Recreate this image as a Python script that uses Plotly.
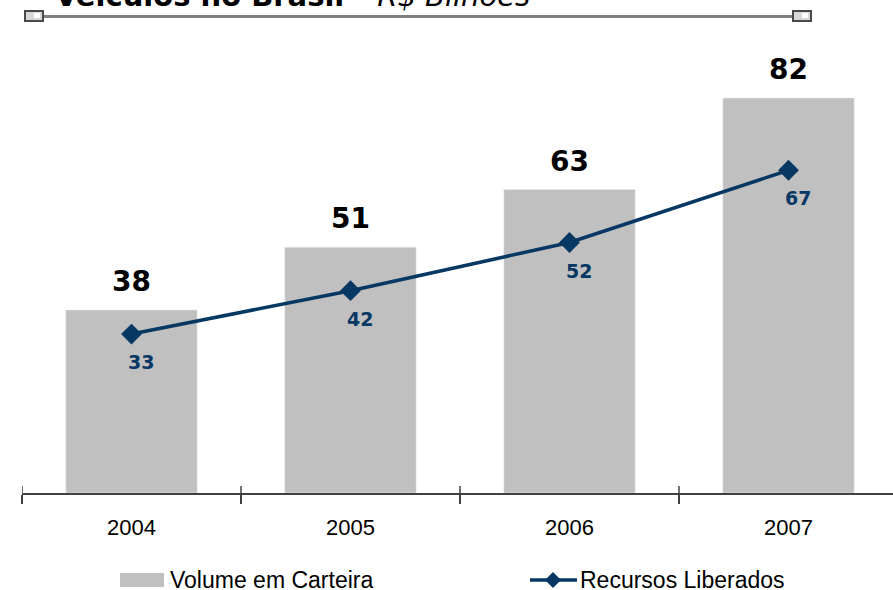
import plotly.graph_objects as go

years = ["2004", "2005", "2006", "2007"]
volume_carteira = [38, 51, 63, 82]
recursos_liberados = [33, 42, 52, 67]
title_bold = "Veículos no Brasil"
title_italic = "R$ Bilhões"
legend_names = ["Volume em Carteira", "Recursos Liberados"]

W, H = 893, 590
ML, MR, MT, MB = 22, 0, 40, 97
PW, PH = W - ML - MR, H - MT - MB

def px(xp):
    return (xp - ML) / PW

def py(yp):
    return (H - MB - yp) / PH

NAVY = "#073763"
GRAY_BAR = "#c0c0c0"

fig = go.Figure()
fig.add_trace(go.Bar(x=years, y=volume_carteira, marker_color=GRAY_BAR,
                     width=0.6, name=legend_names[0], showlegend=False,
                     hoverinfo="skip"))
fig.add_trace(go.Scatter(x=years, y=recursos_liberados, mode="lines+markers",
                         line=dict(color=NAVY, width=3.5),
                         marker=dict(symbol="diamond", size=16, color=NAVY),
                         name=legend_names[1], showlegend=False,
                         hoverinfo="skip"))

ann = []
for i, v in enumerate(volume_carteira):
    ann.append(dict(x=i, y=v, xref="x", yref="y", text=f"<b>{v}</b>",
                    showarrow=False, yanchor="bottom", yshift=10,
                    font=dict(family="DejaVu Sans", size=28, color="black")))
for i, v in enumerate(recursos_liberados):
    ann.append(dict(x=i, y=v, xref="x", yref="y", text=f"<b>{v}</b>",
                    showarrow=False, yanchor="top", yshift=-15, xshift=9,
                    font=dict(family="DejaVu Sans", size=19, color=NAVY)))

# title (partly cut by the top edge as in the reference)
ann.append(dict(x=px(53), y=py(15), xref="paper", yref="paper",
                xanchor="left", yanchor="bottom", showarrow=False,
                text=f"<b>{title_bold}</b> – <i>{title_italic}</i>",
                font=dict(family="DejaVu Sans", size=29, color="black")))

# manual legend
ann.append(dict(x=px(168), y=py(580), xref="paper", yref="paper",
                xanchor="left", yanchor="middle", showarrow=False,
                text=legend_names[0],
                font=dict(family="Liberation Sans, Arial", size=23, color="black")))
ann.append(dict(x=px(578), y=py(580), xref="paper", yref="paper",
                xanchor="left", yanchor="middle", showarrow=False,
                text=legend_names[1],
                font=dict(family="Liberation Sans, Arial", size=23, color="black")))

shapes = []
# title rule line with end caps
shapes.append(dict(type="line", xref="paper", yref="paper",
                   x0=px(43), x1=px(793), y0=py(16.5), y1=py(16.5),
                   line=dict(color="#808080", width=3)))
for cx in (25, 793):
    shapes.append(dict(type="rect", xref="paper", yref="paper",
                       x0=px(cx), x1=px(cx + 18), y0=py(21), y1=py(11),
                       fillcolor="#d8d8d8", line=dict(color="#4a4a4a", width=2)))
    shapes.append(dict(type="rect", xref="paper", yref="paper",
                       x0=px(cx + 9), x1=px(cx + 15), y0=py(18), y1=py(13),
                       fillcolor="#ffffff", line=dict(width=0)))
# ticks crossing axis line
for b in (-0.5, 0.5, 1.5, 2.5):
    shapes.append(dict(type="line", xref="x", yref="paper", x0=b, x1=b,
                       y0=0, y1=py(486), line=dict(color="#404040", width=1.5)))
# legend symbols
shapes.append(dict(type="rect", xref="paper", yref="paper",
                   x0=px(120), x1=px(164), y0=py(587), y1=py(573),
                   fillcolor=GRAY_BAR, line=dict(width=0)))
shapes.append(dict(type="line", xref="paper", yref="paper",
                   x0=px(530), x1=px(577), y0=py(580), y1=py(580),
                   line=dict(color=NAVY, width=3.5)))
cx, cy, r = 553, 580, 8
shapes.append(dict(type="path", xref="paper", yref="paper",
                   path=(f"M {px(cx - r)} {py(cy)} L {px(cx)} {py(cy - r)} "
                         f"L {px(cx + r)} {py(cy)} L {px(cx)} {py(cy + r)} Z"),
                   fillcolor=NAVY, line=dict(width=0)))

fig.update_layout(
    width=W, height=H,
    margin=dict(l=ML, r=MR, t=MT, b=MB),
    plot_bgcolor="white", paper_bgcolor="white",
    annotations=ann, shapes=shapes,
    xaxis=dict(type="category", range=[-0.5, -0.5 + PW / 219.0],
               showline=True, linecolor="#404040", linewidth=1.5,
               ticks="outside", tickson="boundaries", ticklen=9,
               tickcolor="#404040", tickwidth=1.5,
               showgrid=False, fixedrange=True,
               tickfont=dict(family="Liberation Sans, Arial", size=22, color="black"),
               ticklabelstandoff=14),
    yaxis=dict(range=[0, PH / 4.817], visible=False, showgrid=False, fixedrange=True),
    bargap=0.4,
)

fig.write_html("out.html", config={"displayModeBar": False, "staticPlot": True},
               post_script="document.body.style.margin='0';document.body.style.padding='0';")
